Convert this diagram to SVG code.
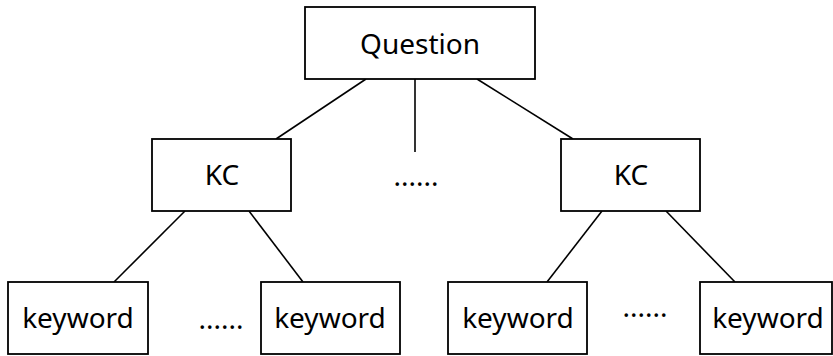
<svg xmlns="http://www.w3.org/2000/svg" width="833" height="356" viewBox="0 0 833 356">
<style>
.box{fill:#fff;stroke:#000;stroke-width:1.8}
.lbl{font-family:"Noto Sans","Open Sans",sans-serif;font-size:28px;fill:#000;text-anchor:middle}
.conn line{stroke:#000;stroke-width:1.6}
</style>
<rect width="833" height="356" fill="#fff"/>
<g id="connectors" class="conn">
<line x1="366" y1="79" x2="276" y2="139"/>
<line x1="415" y1="79" x2="415" y2="152"/>
<line x1="477" y1="79" x2="573" y2="139"/>
<line x1="185" y1="211" x2="114" y2="282"/>
<line x1="249" y1="211" x2="303" y2="282"/>
<line x1="602" y1="211" x2="547" y2="282"/>
<line x1="666" y1="211" x2="735" y2="282"/>
</g>
<g id="question"><rect class="box" x="305" y="7" width="230" height="72"/><text class="lbl" x="420" y="54">Question</text></g>
<g id="kc1"><rect class="box" x="152" y="139" width="139" height="72"/><text class="lbl" x="222" y="185">KC</text></g>
<g id="kc2"><rect class="box" x="561" y="139" width="139" height="72"/><text class="lbl" x="631" y="185">KC</text></g>
<g id="dots-mid"><text class="lbl" x="416" y="186">......</text></g>
<g id="kw1"><rect class="box" x="8" y="282" width="140" height="72"/><text class="lbl" x="78" y="328">keyword</text></g>
<g id="kw2"><rect class="box" x="261" y="282" width="139" height="72"/><text class="lbl" x="330" y="328">keyword</text></g>
<g id="dots-left"><text class="lbl" x="221" y="329">......</text></g>
<g id="kw3"><rect class="box" x="448" y="282" width="139" height="72"/><text class="lbl" x="518" y="328">keyword</text></g>
<g id="dots-right"><text class="lbl" x="645" y="317">......</text></g>
<g id="kw4"><rect class="box" x="700" y="282" width="132" height="72"/><text class="lbl" x="768" y="328">keyword</text></g>
</svg>
